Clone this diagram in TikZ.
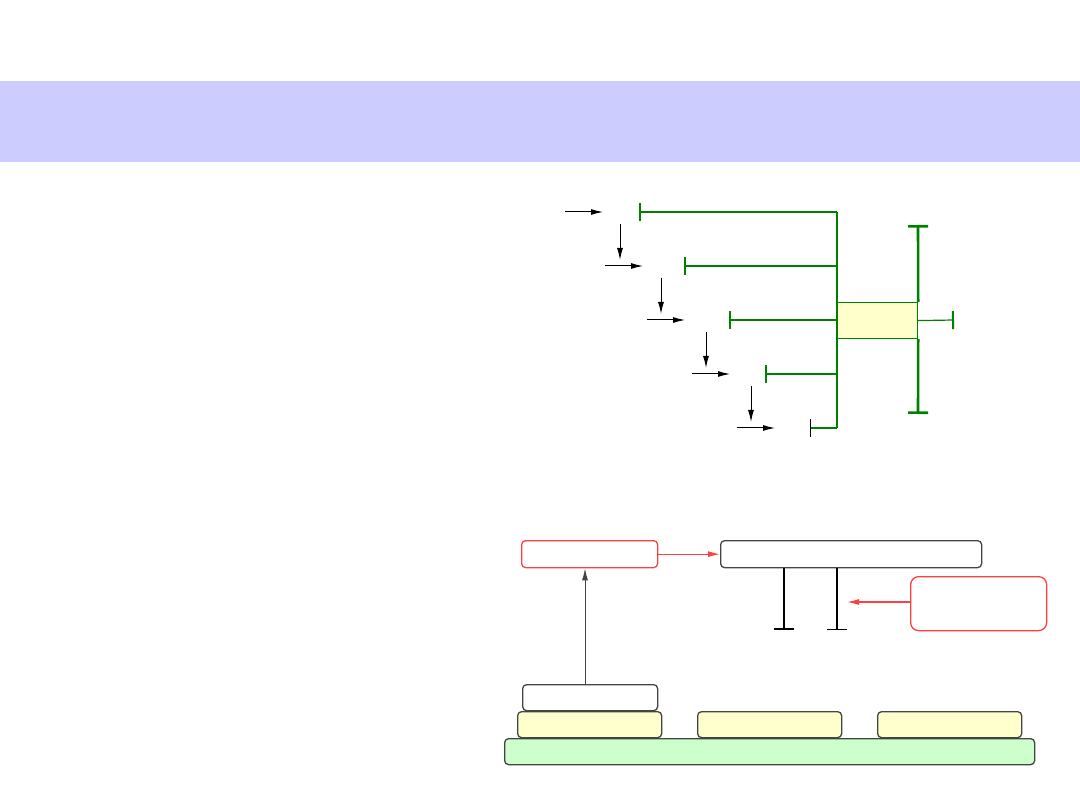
\documentclass[tikz,border=0pt]{standalone}
\usetikzlibrary{arrows.meta}
\definecolor{bandblue}{HTML}{CCCCFF}
\definecolor{paleyellow}{HTML}{FFFFCC}
\definecolor{palegreen}{HTML}{CCFFCC}
\definecolor{linegreen}{HTML}{008000}
\definecolor{boxgray}{HTML}{444444}
\definecolor{notered}{HTML}{FF4040}
\begin{document}
\begin{tikzpicture}[x=1pt,y=-1pt]
    \tikzset{box/.style = {draw=boxgray,line width=1.3pt,rounded corners=4pt,inner sep=0pt,anchor=north west},
             redbox/.style = {box,draw=notered},
             gline/.style = {draw=linegreen,line width=1.2pt},
             gtrunk/.style = {draw=linegreen,line width=2.6pt},
             feed/.style = {line width=1pt,-{Latex[length=12pt,width=6pt]}},
             tick/.style = {{Bar[width=18pt,line width=2pt]}-}}
    \useasboundingbox (0,0) rectangle (1080,810);
    % title band
    \fill[bandblue] (0,81) rectangle (1080,162);
    % upper diagram: staircase of inputs
    \coordinate (trunktop) at (837,212);
    \coordinate (trunkbot) at (837,428);
    \foreach \i/\ax/\tx in {1/565/639,2/605/684,3/647/729,4/692/765}{
        \coordinate (a\i) at (\ax,212+54*\i-54);
        \coordinate (t\i) at (\tx,212+54*\i-54);
        \draw[feed] (a\i) -- ++(38,0);
        \draw[gline,tick] (t\i) -- (t\i -| trunktop);
    }
    \foreach \i/\vx in {1/620,2/661,3/706,4/751}{
        \coordinate (v\i) at (\vx,224+54*\i-54);
        \draw[feed] (v\i) -- ++(0,36);
    }
    \coordinate (a5) at (737,428);
    \coordinate (t5) at (810,428);
    \draw[feed] (a5) -- ++(38,0);
    \draw[gline] (t5) -- (trunkbot);
    \draw[line width=1pt] (810,419) -- (810,437);
    \draw[gtrunk] (trunktop) -- (trunkbot);
    \node[box,draw=linegreen,line width=1.2pt,rounded corners=0pt,fill=paleyellow,minimum width=80pt,minimum height=36pt] (core) at (837,302) {};
    \draw[gtrunk,{Bar[width=20pt]}-] (918,225) -- (core.north east);
    \draw[gtrunk,{Bar[width=20pt]}-] (918,414) -- (core.south east);
    \coordinate (out) at (954,320);
    \draw[gline,tick] (out) -- (core.east);
    % lower diagram
    \node[redbox,minimum width=136pt,minimum height=27pt] (req) at (521,540) {};
    \node[box,minimum width=261pt,minimum height=27pt] (main) at (720,540) {};
    \node[redbox,minimum width=136pt,minimum height=54pt,rounded corners=8pt] (note) at (910,576) {};
    \draw[notered,line width=1.2pt,-{Latex[length=12pt,width=6pt]}] (req.east) -- (main.west);
    \coordinate (postL) at (784,630);
    \coordinate (postR) at (837,630);
    \draw[line width=1.5pt,{Bar[width=20pt,line width=2.5pt]}-] (postL) -- (postL |- main.south);
    \draw[line width=1.5pt,{Bar[width=20pt,line width=1.2pt]}-] (postR) -- (postR |- main.south);
    \coordinate (pointer) at (847,602);
    \draw[notered,line width=1.2pt,-{Latex[length=12pt,width=6pt]}] (note.west |- pointer) -- (pointer);
    % stack
    \node[box,fill=palegreen,minimum width=530pt,minimum height=26pt] (base) at (504,738) {};
    \node[box,fill=paleyellow,minimum width=144pt,minimum height=26pt] (layA) at (517,711) {};
    \node[box,fill=paleyellow,minimum width=144pt,minimum height=26pt] (layB) at (697,711) {};
    \node[box,fill=paleyellow,minimum width=144pt,minimum height=26pt] (layC) at (877,711) {};
    \node[box,fill=white,minimum width=135pt,minimum height=26pt] (top) at (522,684) {};
    \draw[boxgray,line width=1pt,-{Latex[length=12pt,width=6pt]}] (top.north -| 585,0) -- (req.south -| 585,0);
\end{tikzpicture}
\end{document}
